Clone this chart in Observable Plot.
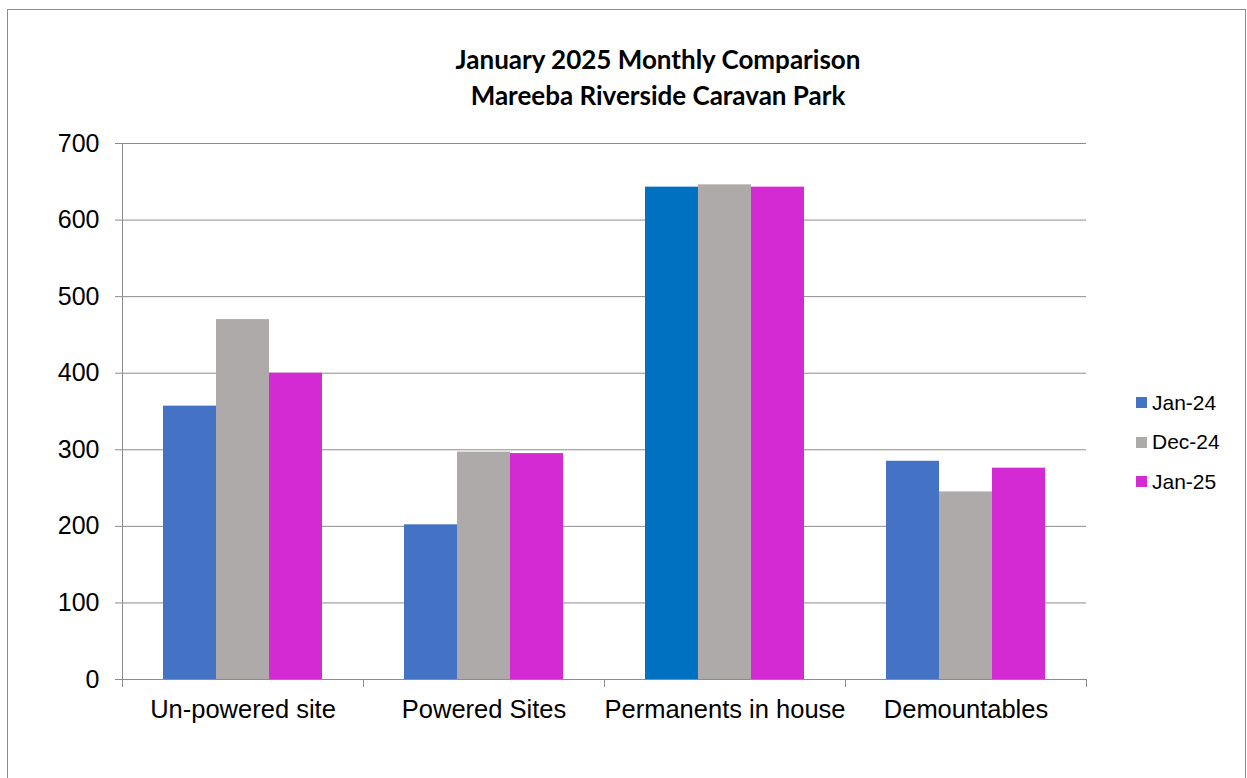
<!DOCTYPE html>
<html><head><meta charset="utf-8">
<script src="https://cdn.jsdelivr.net/npm/d3@7"></script>
<script src="https://cdn.jsdelivr.net/npm/@observablehq/plot@0.6"></script>
<style>
body{margin:0;background:#fff;width:1247px;height:778px;overflow:hidden;position:relative;font-family:"Liberation Sans",Arial,sans-serif;}
#border{position:absolute;left:7px;top:9px;width:1237px;height:820px;border:1px solid #8c8c8c;}
#title{position:absolute;left:258px;top:41px;width:800px;text-align:center;font-family:Lato,"Open Sans",sans-serif;font-weight:700;font-size:26px;line-height:36px;color:#000;}
#chart{position:absolute;left:0;top:113px;}
#legend{position:absolute;left:1136px;top:383px;font-size:21px;color:#000;}
.row{display:flex;align-items:center;height:39.5px;}
.sw{width:11px;height:11px;margin-right:5px;}
</style></head>
<body>
<div id="border"></div>
<div id="title"></div>
<div id="chart"></div>
<div id="legend"></div>
<script>
const titleLines = ["January 2025 Monthly Comparison", "Mareeba Riverside Caravan Park"];
const categories = ["Un-powered site", "Powered Sites", "Permanents in house", "Demountables"];
const seriesNames = ["Jan-24", "Dec-24", "Jan-25"];
const jan24 = [357, 202, 643, 285];
const dec24 = [470, 297, 646, 245];
const jan25 = [400, 295, 643, 276];
const yTicks = [0, 100, 200, 300, 400, 500, 600, 700];

const seriesColors = ["#4472C4", "#AEAAAA", "#D42AD4"];
const specialColor = "#0070C0"; // Jan-24 bar for Permanents in house
const specialCategory = "Permanents in house";
const axisColor = "#8c8c8c";

const seriesValues = [jan24, dec24, jan25];
const rows = categories.flatMap((c, i) => seriesNames.map((s, j) => ({category: c, series: s, value: seriesValues[j][i]})));
const colorOf = d => (d.category === specialCategory && d.series === seriesNames[0]) ? specialColor : seriesColors[seriesNames.indexOf(d.series)];

document.getElementById("title").innerHTML = titleLines.map(t => `<div>${t}</div>`).join("");

const H = 626, MT = 30, MB = 60;
const plotH = H - MT - MB;

const chart = Plot.plot({
  width: 1247, height: H,
  marginLeft: 120, marginRight: 160, marginTop: MT, marginBottom: MB,
  style: {fontFamily: '"Liberation Sans", Arial, sans-serif', fontSize: "25px", color: "#000", background: "transparent", overflow: "visible"},
  fx: {domain: categories, padding: 0, label: null, axis: null},
  x: {domain: seriesNames, paddingInner: 0, paddingOuter: 0.745, axis: null},
  y: {domain: [0, 700], axis: null},
  marks: [
    Plot.gridY(yTicks, {stroke: axisColor, strokeOpacity: 1}),
    Plot.barY(rows, {fx: "category", x: "series", y: "value", fill: colorOf}),
    Plot.frame({anchor: "left", insetTop: plotH, insetBottom: -7, stroke: axisColor, strokeOpacity: 1}),
    Plot.frame({anchor: "right", insetTop: plotH, insetBottom: -7, stroke: axisColor, strokeOpacity: 1}),
    Plot.frame({anchor: "left", fx: [categories[0]], insetBottom: -7, stroke: axisColor, strokeOpacity: 1}),
    Plot.axisY(yTicks, {anchor: "left", tickSize: 7, tickPadding: 16, fontSize: 25, stroke: axisColor, label: null}),
    Plot.axisFx({anchor: "bottom", tickSize: 0, tickPadding: 20, fontSize: 25.5, label: null})
  ]
});
document.getElementById("chart").appendChild(chart);

document.getElementById("legend").innerHTML = seriesNames.map((s, j) =>
  `<div class="row"><div class="sw" style="background:${seriesColors[j]}"></div><span>${s}</span></div>`).join("");
</script>
</body></html>
